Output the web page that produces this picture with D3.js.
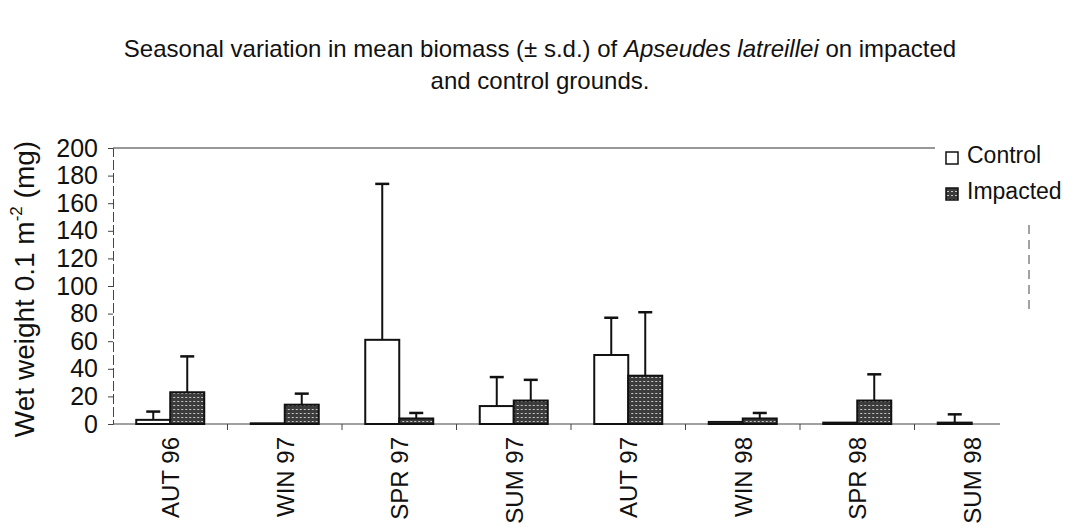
<!DOCTYPE html>
<html>
<head>
<meta charset="utf-8">
<script src="https://cdn.jsdelivr.net/npm/d3@7/dist/d3.min.js"></script>
<style>
  body { margin: 0; background: #fff; }
  svg { display: block; font-family: "Liberation Sans", Arial, sans-serif; }
</style>
</head>
<body>
<div id="chart"></div>
<script>
// seasons sampled
const seasons = ["AUT 96", "WIN 97", "SPR 97", "SUM 97", "AUT 97", "WIN 98", "SPR 98", "SUM 98"];
const seriesNames = ["Control", "Impacted"];

// mean wet weight (mg per 0.1 m2)
const controlMean = [3, 0.5, 61, 13, 50, 1.5, 1, 1];
const controlSd   = [6, 0, 113, 21, 27, 0, 0, 6];
const impactedMean = [23, 14, 4, 17, 35, 4, 17, 0];
const impactedSd   = [26, 8, 4, 15, 46, 4, 19, 0];

const yTicks = [0, 20, 40, 60, 80, 100, 120, 140, 160, 180, 200];

const width = 1077, height = 531;
const margin = {top: 148, right: 48, bottom: 107, left: 113};

const svg = d3.select("#chart").append("svg")
    .attr("width", width)
    .attr("height", height);

// fill for the impacted bars: dark grey with a light speckle
const defs = svg.append("defs");
const pat = defs.append("pattern")
    .attr("id", "hatch")
    .attr("patternUnits", "userSpaceOnUse")
    .attr("width", 4).attr("height", 4);
pat.append("rect").attr("width", 4).attr("height", 4).attr("fill", "#3c3c3c");
pat.append("rect").attr("x", 1).attr("y", 1).attr("width", 2).attr("height", 1).attr("fill", "#c8c8c8");

const x = d3.scaleBand()
    .domain(seasons)
    .range([margin.left, width - margin.right]);

const barW = 34;
const x1 = d3.scaleBand()
    .domain(seriesNames)
    .range([0, barW * 2]);

const y = d3.scaleLinear()
    .domain([0, 200])
    .range([height - margin.bottom, margin.top]);

// title
const title = svg.append("text")
    .attr("text-anchor", "middle")
    .attr("font-size", 24)
    .attr("fill", "#111");
const t1 = title.append("tspan").attr("x", 540).attr("y", 57);
t1.append("tspan").text("Seasonal variation in mean biomass (± s.d.) of ");
t1.append("tspan").attr("font-style", "italic").text("Apseudes latreillei");
t1.append("tspan").text(" on impacted");
title.append("tspan").attr("x", 540).attr("y", 89).text("and control grounds.");

// plot frame remnants (top line and partial right edge)
svg.append("line")
    .attr("x1", margin.left).attr("x2", 935)
    .attr("y1", y(200)).attr("y2", y(200))
    .attr("stroke", "#333").attr("stroke-width", 1.2);
svg.append("line")
    .attr("x1", width - margin.right).attr("x2", width - margin.right)
    .attr("y1", 225).attr("y2", 310)
    .attr("stroke", "#444").attr("stroke-dasharray", "9,6");

// y axis
const yAxis = svg.append("g")
    .attr("transform", `translate(${margin.left},0)`)
    .call(d3.axisLeft(y).tickValues(yTicks).tickSize(5).tickPadding(10));
yAxis.select(".domain").attr("stroke", "#444").attr("stroke-dasharray", "10,3");
yAxis.selectAll(".tick line").attr("stroke", "#444");
yAxis.selectAll(".tick text")
    .attr("font-size", 25)
    .attr("font-family", "Liberation Sans, Arial, sans-serif")
    .attr("fill", "#111");

// y label
const yl = svg.append("text")
    .attr("transform", `translate(34,${(y(0) + y(200)) / 2 + 3}) rotate(-90)`)
    .attr("text-anchor", "middle")
    .attr("font-size", 28)
    .attr("fill", "#111");
yl.append("tspan").text("Wet weight 0.1 m");
yl.append("tspan").attr("font-size", 17).attr("dy", -12).text("-2");
yl.append("tspan").attr("dy", 12).text(" (mg)");

// x axis line and ticks between the seasons
svg.append("line")
    .attr("x1", margin.left).attr("x2", 1000)
    .attr("y1", y(0)).attr("y2", y(0))
    .attr("stroke", "#444").attr("stroke-width", 1.2);
svg.append("g").selectAll("line")
    .data(seasons.slice(1))
    .join("line")
    .attr("x1", d => x(d)).attr("x2", d => x(d))
    .attr("y1", y(0)).attr("y2", y(0) + 6)
    .attr("stroke", "#444");

svg.append("g").selectAll("text")
    .data(seasons)
    .join("text")
    .attr("transform", d => `translate(${x(d) + x.bandwidth() / 2 + 9},${y(0) + 13}) rotate(-90)`)
    .attr("text-anchor", "end")
    .attr("font-size", 24)
    .attr("fill", "#111")
    .text(d => d);

// bars
const rows = seasons.map((s, i) => ({
    season: s,
    values: [
        {key: "Control", mean: controlMean[i], sd: controlSd[i]},
        {key: "Impacted", mean: impactedMean[i], sd: impactedSd[i]}
    ]
}));

const groups = svg.append("g").selectAll("g")
    .data(rows)
    .join("g")
    .attr("transform", d => `translate(${x(d.season) + (x.bandwidth() - barW * 2) / 2},0)`);

const bar = groups.selectAll("g")
    .data(d => d.values)
    .join("g");

// error bars (upper only)
bar.filter(d => d.sd > 0).append("line")
    .attr("x1", d => x1(d.key) + barW / 2).attr("x2", d => x1(d.key) + barW / 2)
    .attr("y1", d => y(d.mean)).attr("y2", d => y(d.mean + d.sd))
    .attr("stroke", "#111").attr("stroke-width", 2);
bar.filter(d => d.sd > 0).append("line")
    .attr("x1", d => x1(d.key) + barW / 2 - 7).attr("x2", d => x1(d.key) + barW / 2 + 7)
    .attr("y1", d => y(d.mean + d.sd)).attr("y2", d => y(d.mean + d.sd))
    .attr("stroke", "#111").attr("stroke-width", 2.5);

bar.append("rect")
    .attr("x", d => x1(d.key))
    .attr("width", barW)
    .attr("y", d => y(d.mean))
    .attr("height", d => y(0) - y(d.mean))
    .attr("fill", d => d.key === "Control" ? "#fff" : "url(#hatch)")
    .attr("stroke", "#111")
    .attr("stroke-width", 2);

// legend
const legend = svg.append("g").attr("transform", "translate(946,150)");
seriesNames.forEach((name, i) => {
    const g = legend.append("g").attr("transform", `translate(0,${i * 36})`);
    g.append("rect")
        .attr("width", 12).attr("height", 12)
        .attr("y", 2)
        .attr("fill", name === "Control" ? "#fff" : "url(#hatch)")
        .attr("stroke", "#111").attr("stroke-width", 1.5);
    g.append("text")
        .attr("x", 21).attr("y", 13)
        .attr("font-size", 23)
        .attr("fill", "#111")
        .text(name);
});
</script>
</body>
</html>
